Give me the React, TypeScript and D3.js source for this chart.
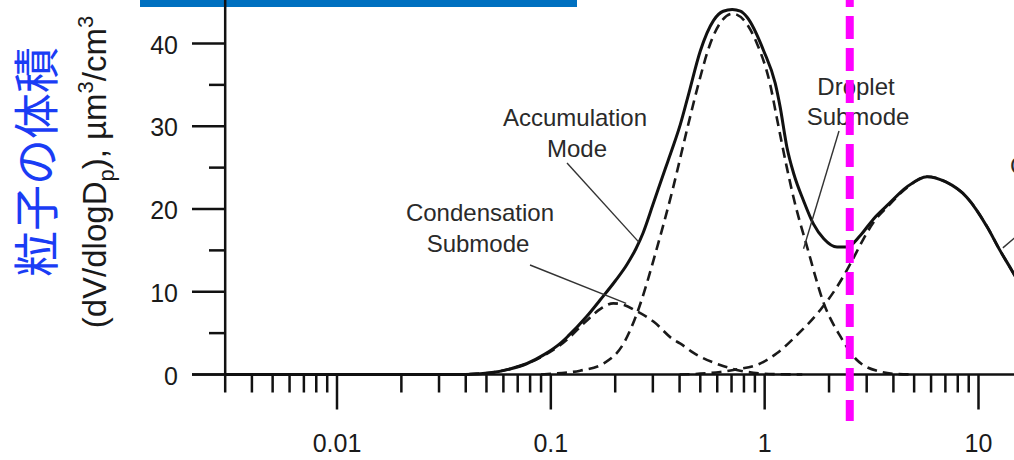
import React, { useRef, useEffect } from "react";
import * as d3 from "d3";

// particle diameter Dp (µm) and dV/dlogDp (µm³/cm³)
const totalDp = [0.003, 0.04, 0.052, 0.065, 0.077, 0.093, 0.11, 0.12, 0.147, 0.17, 0.2, 0.227, 0.25, 0.27, 0.3, 0.34, 0.37, 0.403, 0.44, 0.5, 0.577, 0.64, 0.705, 0.77, 0.826, 0.99, 1.12, 1.18, 1.27, 1.37, 1.52, 1.69, 1.89, 2.18, 2.43, 2.8, 3.23, 3.73, 4.64, 5.75, 7.0, 8.83, 11.0, 12.6, 14.6, 17, 20];
const totalDv = [0, 0, 0.2, 0.7, 1.3, 2.4, 3.7, 4.6, 7.0, 9.0, 11.3, 13.3, 15.2, 17.1, 20.5, 24.6, 27.3, 30.2, 33.8, 39.1, 42.8, 43.9, 44.1, 43.9, 43.2, 39.1, 35.2, 32.4, 27.5, 24.2, 21.0, 18.2, 16.4, 15.4, 15.4, 16.8, 18.8, 20.4, 22.7, 23.9, 23.3, 21.4, 17.8, 15.0, 12.2, 9, 6];

const condDp = [0.035, 0.045, 0.052, 0.065, 0.077, 0.093, 0.11, 0.12, 0.147, 0.17, 0.196, 0.22, 0.25, 0.302, 0.375, 0.402, 0.465, 0.5, 0.619, 0.769, 0.885, 1.1, 1.5];
const condDv = [0, 0.1, 0.2, 0.7, 1.3, 2.3, 3.5, 4.3, 6.5, 7.9, 8.6, 8.4, 7.7, 6.4, 4.2, 3.76, 2.6, 2.15, 1.15, 0.46, 0.22, 0.05, 0];

const dropDp = [0.09, 0.107, 0.137, 0.177, 0.219, 0.253, 0.281, 0.302, 0.37, 0.44, 0.49, 0.557, 0.708, 0.92, 1.06, 1.14, 1.27, 1.37, 1.58, 1.89, 2.26, 2.7, 3.47, 4.16, 5];
const dropDv = [0, 0.14, 0.46, 1.35, 3.76, 7.4, 11.0, 13.8, 22.2, 30.3, 35.1, 40.0, 43.6, 40.0, 35.1, 31.0, 25.0, 21.2, 15.4, 8.6, 4.6, 1.75, 0.34, 0.06, 0];

const coarseDp = [0.4, 0.5, 0.62, 0.75, 0.92, 1.14, 1.42, 1.82, 2.18, 2.52, 2.9, 3.23, 3.73, 4.64, 5.75, 7.0, 8.83, 11.0, 12.6, 14.6, 17, 20];
const coarseDv = [0, 0.1, 0.3, 0.65, 1.15, 2.56, 4.8, 7.8, 10.6, 13.4, 16.4, 18.4, 20.2, 22.6, 23.9, 23.3, 21.4, 17.8, 15.0, 12.2, 9, 6];

const yTicks = [0, 10, 20, 30, 40];
const yMinor = [5, 15, 25, 35];
const xLabels = [0.01, 0.1, 1, 10];
const xLabelText = ["0.01", "0.1", "1", "10"];
const pmCut = 2.5;

const W = 1014,
  H = 460;
const FONT = "'Liberation Sans', Arial, sans-serif";

const App = () => {
  const svgRef = useRef<SVGSVGElement>(null);

  useEffect(() => {
    const svg = d3.select(svgRef.current);
    svg.selectAll("*").remove();

    const x = d3.scaleLog().domain([0.01, 10]).range([337, 978.5]);
    const y = d3.scaleLinear().domain([0, 40]).range([374.5, 43.5]);
    const xLeft = x(0.003);
    const y0 = y(0);

    svg.append("rect").attr("width", W).attr("height", H).attr("fill", "#fff");

    // blue title bar (cropped)
    svg.append("rect").attr("x", 140).attr("y", 0).attr("width", 437).attr("height", 7).attr("fill", "#0070C0");

    const line = d3
      .line<[number, number]>()
      .x((d) => x(d[0]))
      .y((d) => y(d[1]))
      .curve(d3.curveMonotoneX);

    const zip = (a: number[], b: number[]) => a.map((v, i) => [v, b[i]] as [number, number]);

    // modes (dashed)
    [zip(condDp, condDv), zip(dropDp, dropDv), zip(coarseDp, coarseDv)].forEach((pts) => {
      svg
        .append("path")
        .attr("d", line(pts))
        .attr("fill", "none")
        .attr("stroke", "#1a1a1a")
        .attr("stroke-width", 2.6)
        .attr("stroke-dasharray", "10 6");
    });

    // total (solid)
    svg
      .append("path")
      .attr("d", line(zip(totalDp, totalDv)))
      .attr("fill", "none")
      .attr("stroke", "#111")
      .attr("stroke-width", 3);

    // axes
    const ax = svg.append("g").attr("stroke", "#111").attr("stroke-width", 2.5);
    ax.append("line").attr("x1", xLeft).attr("x2", xLeft).attr("y1", 0).attr("y2", y0);
    ax.append("line").attr("x1", 192).attr("x2", W + 5).attr("y1", y0).attr("y2", y0);

    yTicks.forEach((t) => {
      ax.append("line").attr("x1", 192).attr("x2", xLeft).attr("y1", y(t)).attr("y2", y(t));
    });
    yMinor.forEach((t) => {
      ax.append("line").attr("x1", 209).attr("x2", xLeft).attr("y1", y(t)).attr("y2", y(t));
    });

    const xt = x.copy().domain([0.003, 19]).ticks();
    xt.forEach((t) => {
      const lg = Math.log10(t);
      const major = Math.abs(lg - Math.round(lg)) < 1e-6;
      ax
        .append("line")
        .attr("x1", x(t))
        .attr("x2", x(t))
        .attr("y1", y0)
        .attr("y2", y0 + (major ? 35 : 18));
    });

    const lab = svg.append("g").attr("font-family", FONT).attr("fill", "#1a1a1a");
    yTicks.forEach((t) => {
      lab
        .append("text")
        .attr("x", 178)
        .attr("y", y(t) + 1)
        .attr("text-anchor", "end")
        .attr("dominant-baseline", "central")
        .attr("font-size", 25)
        .text(t);
    });
    xLabels.forEach((t, i) => {
      lab
        .append("text")
        .attr("x", x(t))
        .attr("y", 452)
        .attr("text-anchor", "middle")
        .attr("font-size", 25)
        .text(xLabelText[i]);
    });

    // axis titles
    const yt = lab
      .append("text")
      .attr("transform", "translate(106,172) rotate(-90)")
      .attr("text-anchor", "middle")
      .attr("font-size", 33);
    yt.append("tspan").text("(dV/dlogD");
    yt.append("tspan").attr("font-size", 22).attr("dy", 8).text("p");
    yt.append("tspan").attr("dy", -8).text("), µm");
    yt.append("tspan").attr("font-size", 22).attr("dy", -13).text("3");
    yt.append("tspan").attr("dy", 13).text("/cm");
    yt.append("tspan").attr("font-size", 22).attr("dy", -13).text("3");

    svg
      .append("text")
      .attr("transform", "translate(33,162) rotate(-90)")
      .attr("text-anchor", "middle")
      .attr("dominant-baseline", "central")
      .attr("font-family", "'Noto Sans CJK JP', sans-serif")
      .attr("font-size", 46)
      .attr("fill", "#1a3cf5")
      .text("粒子の体積");

    // annotations
    const ann = svg.append("g").attr("font-family", FONT).attr("font-size", 24).attr("fill", "#2a2a2a").attr("text-anchor", "middle");
    ann.append("text").attr("x", 575).attr("y", 126).text("Accumulation");
    ann.append("text").attr("x", 577).attr("y", 157).text("Mode");
    ann.append("text").attr("x", 480).attr("y", 221).text("Condensation");
    ann.append("text").attr("x", 478).attr("y", 252).text("Submode");
    ann.append("text").attr("x", 856).attr("y", 95).text("Droplet");
    ann.append("text").attr("x", 858).attr("y", 125).text("Submode");
    ann.append("text").attr("x", 1010).attr("y", 174).attr("text-anchor", "start").text("Coarse");

    const lead = svg.append("g").attr("stroke", "#333").attr("stroke-width", 1.4);
    lead.append("line").attr("x1", 567).attr("y1", 163).attr("x2", x(0.258)).attr("y2", y(16.0));
    lead.append("line").attr("x1", 530).attr("y1", 265).attr("x2", x(0.225)).attr("y2", y(8.6));
    lead.append("line").attr("x1", 839).attr("y1", 131).attr("x2", x(1.52)).attr("y2", y(15.2));
    lead.append("line").attr("x1", 1040).attr("y1", 216).attr("x2", x(13)).attr("y2", y(15.3));

    // PM2.5 cut line
    svg
      .append("line")
      .attr("x1", x(pmCut))
      .attr("x2", x(pmCut))
      .attr("y1", -16)
      .attr("y2", 421)
      .attr("stroke", "#ff00ff")
      .attr("stroke-width", 8)
      .attr("stroke-dasharray", "23 9");
  }, []);

  return (
    <svg
      ref={svgRef}
      width={W}
      height={H}
      style={{ position: "absolute", left: 0, top: 0, display: "block" }}
    />
  );
};

export default App;
